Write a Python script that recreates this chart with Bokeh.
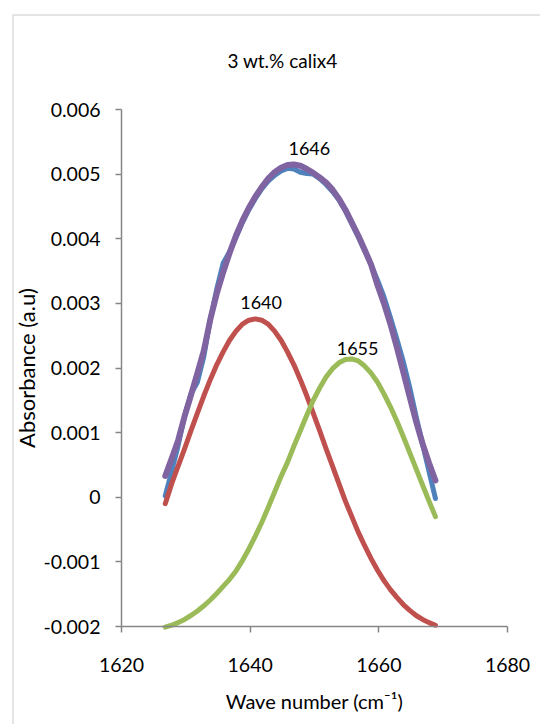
from bokeh.plotting import figure
from bokeh.models import Range1d, FixedTicker, Label, BoxAnnotation
from bokeh.embed import file_html
from bokeh.resources import INLINE

# Wave numbers (cm-1) of the sampled spectrum
wave = [
    1626.8, 1627.8, 1628.8, 1629.8, 1630.8, 1631.8, 1632.8, 1633.8, 1634.8, 1635.8,
    1636.8, 1637.8, 1638.8, 1639.8, 1640.8, 1641.8, 1642.8, 1643.8, 1644.8, 1645.8,
    1646.8, 1647.8, 1648.8, 1649.8, 1650.8, 1651.8, 1652.8, 1653.8, 1654.8, 1655.8,
    1656.8, 1657.8, 1658.8, 1659.8, 1660.8, 1661.8, 1662.8, 1663.8, 1664.8, 1665.8,
    1666.8, 1667.8, 1668.8,
]

# Measured absorbance
measured = [
    0.00002, 0.00040, 0.00080, 0.00125, 0.00160, 0.00178, 0.00218, 0.00275, 0.00322, 0.00362,
    0.00380, 0.00402, 0.00425, 0.00445, 0.00462, 0.00477, 0.00489, 0.00498, 0.00505, 0.00509,
    0.00508, 0.00503, 0.00501, 0.00500, 0.00493, 0.00484, 0.00473, 0.00460, 0.00443, 0.00423,
    0.00403, 0.00381, 0.00360, 0.00336, 0.00310, 0.00278, 0.00245, 0.00210, 0.00170, 0.00125,
    0.00082, 0.00040, -0.00002,
]

# Deconvoluted band at 1640 cm-1
band_1640 = [
    -0.00010, 0.00021, 0.00048, 0.00075, 0.00103, 0.00130, 0.00157, 0.00182, 0.00205, 0.00225,
    0.00243, 0.00257, 0.00268, 0.00274, 0.00276, 0.00274, 0.00268, 0.00257, 0.00243, 0.00225,
    0.00205, 0.00182, 0.00157, 0.00130, 0.00103, 0.00075, 0.00048, 0.00021, -0.00006, -0.00030,
    -0.00054, -0.00075, -0.00095, -0.00113, -0.00129, -0.00143, -0.00155, -0.00166, -0.00175, -0.00183,
    -0.00189, -0.00194, -0.00198,
]

# Deconvoluted band at 1655 cm-1
band_1655 = [
    -0.00201, -0.00198, -0.00194, -0.00189, -0.00183, -0.00176, -0.00168, -0.00159, -0.00149, -0.00138,
    -0.00127, -0.00114, -0.00098, -0.00080, -0.00060, -0.00039, -0.00016, 0.00008, 0.00032, 0.00054,
    0.00079, 0.00103, 0.00127, 0.00150, 0.00169, 0.00186, 0.00199, 0.00208, 0.00213, 0.00214,
    0.00211, 0.00203, 0.00192, 0.00178, 0.00160, 0.00140, 0.00118, 0.00094, 0.00069, 0.00044,
    0.00019, -0.00006, -0.00030,
]

# Fitted envelope
fitted = [
    0.00033, 0.00060, 0.00088, 0.00125, 0.00158, 0.00192, 0.00227, 0.00275, 0.00315, 0.00348,
    0.00378, 0.00405, 0.00428, 0.00448, 0.00465, 0.00480, 0.00493, 0.00503, 0.00510, 0.00514,
    0.00515, 0.00513, 0.00508, 0.00502, 0.00495, 0.00487, 0.00476, 0.00462, 0.00445, 0.00425,
    0.00405, 0.00383, 0.00360, 0.00328, 0.00300, 0.00268, 0.00232, 0.00194, 0.00155, 0.00117,
    0.00083, 0.00053, 0.00026,
]

x_ticks = [1620, 1640, 1660, 1680]
y_ticks = [-0.002, -0.001, 0.0, 0.001, 0.002, 0.003, 0.004, 0.005, 0.006]
y_tick_labels = ["-0.002", "-0.001", "0", "0.001", "0.002", "0.003", "0.004", "0.005", "0.006"]

peak_labels = ["1640", "1646", "1655"]
chart_title = "3 wt.% calix4"

FONT = "Lato"
AXIS_GRAY = "#868686"

# Page geometry: the plotting frame covers the whole canvas; the axes are
# pinned at the data origin so the plot area sits at the pixel box below.
W, H = 540, 724
AREA_L, AREA_R, AREA_T, AREA_B = 121, 507, 109, 626
x_lo, x_hi = x_ticks[0], x_ticks[-1]
y_lo, y_hi = y_ticks[0], y_ticks[-1]
kx = (AREA_R - AREA_L) / (x_hi - x_lo)      # pixels per cm-1
ky = (AREA_B - AREA_T) / (y_hi - y_lo)      # pixels per absorbance unit
x_range = Range1d(x_lo - AREA_L / kx, x_hi + (W - AREA_R) / kx)
y_range = Range1d(y_lo - (H - AREA_B) / ky, y_hi + AREA_T / ky)

def px_to_x(px):
    return x_range.start + px / kx

def px_to_y(py):
    return y_range.end - py / ky

p = figure(
    width=W, height=H, title=None,
    x_range=x_range, y_range=y_range,
    output_backend="svg", toolbar_location=None,
    min_border=0,
)
p.outline_line_color = None
p.xgrid.visible = False
p.ygrid.visible = False
p.background_fill_color = "white"
p.border_fill_color = "white"

# axes
for ax in (p.xaxis[0], p.yaxis[0]):
    ax.axis_line_color = AXIS_GRAY
    ax.axis_line_width = 1.5
    ax.major_tick_line_color = AXIS_GRAY
    ax.major_tick_line_width = 1.5
    ax.major_tick_in = 0
    ax.major_tick_out = 6
    ax.minor_tick_line_color = None
    ax.major_label_text_font = FONT
    ax.major_label_text_font_size = "19.5px"
    ax.major_label_text_color = "black"
    ax.axis_label_text_font = FONT
    ax.axis_label_text_font_style = "normal"
    ax.axis_label_text_color = "black"

p.xaxis.fixed_location = y_lo
p.xaxis.bounds = (x_lo, x_hi)
p.xaxis.ticker = FixedTicker(ticks=x_ticks)
p.xaxis.major_label_standoff = 25
p.xaxis.axis_label = "Wave number (cm\u207b\u00b9)"
p.xaxis.axis_label_standoff = 14
p.xaxis.axis_label_text_font_size = "20px"

p.yaxis.fixed_location = x_lo
p.yaxis.bounds = (y_lo, y_hi)
p.yaxis.ticker = FixedTicker(ticks=y_ticks)
p.yaxis.major_label_overrides = dict(zip(y_ticks, y_tick_labels))
p.yaxis.major_label_standoff = 15
p.yaxis.axis_label = "Absorbance (a.u)"
p.yaxis.axis_label_standoff = 0
p.yaxis.axis_label_text_font_size = "22px"

# chart-area border (its right and bottom edges lie beyond the page)
p.add_layout(BoxAnnotation(
    left=px_to_x(12.5), top=px_to_y(14.5),
    right=px_to_x(W + 20), bottom=px_to_y(H + 20),
    fill_alpha=0, line_color="#8a8a8a", line_width=1.5,
))

# curves
common = dict(line_cap="round", line_join="round")
p.line(wave, measured, line_color="#4F81BD", line_width=5, **common)
p.line(wave, band_1640, line_color="#C0504D", line_width=5, **common)
p.line(wave, band_1655, line_color="#9BBB59", line_width=5, **common)
p.line(wave, fitted, line_color="#8064A2", line_width=6, **common)

# peak labels, placed above each curve's maximum
def peak(series):
    i = max(range(len(series)), key=lambda k: series[k])
    return wave[i], series[i]

for series, text, dx, dy in (
    (band_1640, peak_labels[0], 0.9, 10),
    (fitted, peak_labels[1], 2.4, 9),
    (band_1655, peak_labels[2], 0.9, 4),
):
    px, py = peak(series)
    p.add_layout(Label(
        x=px + dx, y=py, text=text, y_offset=dy,
        text_align="center", text_baseline="bottom",
        text_font=FONT, text_font_size="18px", text_color="black",
    ))

# chart title, centred over the chart area
p.add_layout(Label(
    x=px_to_x(282), y=px_to_y(60), text=chart_title,
    text_align="center", text_baseline="middle",
    text_font=FONT, text_font_size="19px", text_color="black",
))

open("out.html", "w").write(file_html(p, INLINE))
